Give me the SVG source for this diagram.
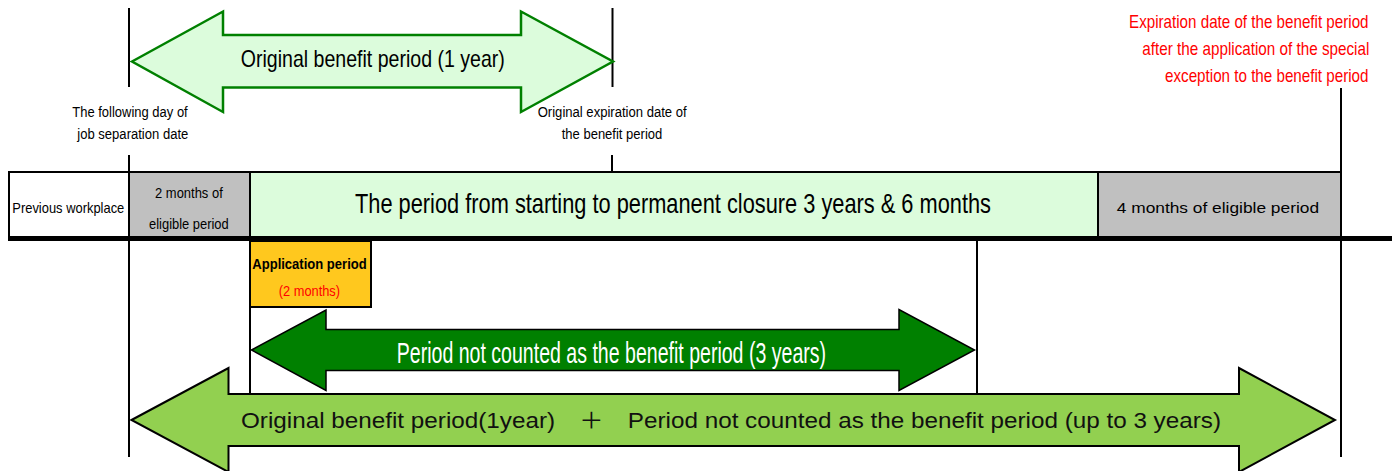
<svg xmlns="http://www.w3.org/2000/svg" width="1392" height="471" viewBox="0 0 1392 471">
<style>
  .t{font-family:"Liberation Sans",Arial,sans-serif;fill:#000}
  .s{font-size:15.5px}
  .c{text-anchor:middle}
  .e{text-anchor:end}
  .red{fill:#ff0000}
  .guide{stroke:#000;stroke-width:2;fill:none}
  .cell{stroke:#000;stroke-width:2}
</style>
<rect width="1392" height="471" fill="#ffffff"/>
<g id="connectors">
  <line class="guide" x1="129" y1="8" x2="129" y2="87"/>
  <line class="guide" x1="129" y1="155" x2="129" y2="457"/>
  <line class="guide" x1="612.5" y1="8" x2="612.5" y2="87"/>
  <line class="guide" x1="612" y1="155" x2="612" y2="172"/>
  <line class="guide" x1="1341" y1="88" x2="1341" y2="457"/>
  <line class="guide" x1="250" y1="306" x2="250" y2="394"/>
  <line class="guide" x1="977" y1="240" x2="977" y2="394"/>
</g>
<g id="top-arrow">
  <path d="M132,61.5 L223,11.5 L223,35 L521,35 L521,11.5 L613,61.5 L521,112 L521,87.5 L223,87.5 L223,112 Z" fill="#dcfcdc" stroke="#008000" stroke-width="2.5" stroke-linejoin="miter"/>
  <text class="t c" transform="translate(372.8,67.3) scale(0.85,1)" x="0" y="0" font-size="23" textLength="310.6" lengthAdjust="spacingAndGlyphs">Original benefit period (1 year)</text>
</g>
<g id="label-start">
  <text class="t s e" x="187.7" y="117.3" textLength="115.4" lengthAdjust="spacingAndGlyphs">The following day of</text>
  <text class="t s e" x="188.3" y="139.3" textLength="111" lengthAdjust="spacingAndGlyphs">job separation date</text>
</g>
<g id="label-original-expiration">
  <text class="t s c" x="612.2" y="117.3" textLength="149" lengthAdjust="spacingAndGlyphs">Original expiration date of</text>
  <text class="t s c" x="612" y="139.3" textLength="100.6" lengthAdjust="spacingAndGlyphs">the benefit period</text>
</g>
<g id="label-special-expiration">
  <text class="t red e" transform="translate(1368.5,28.3) scale(0.845,1)" x="0" y="0" font-size="18" textLength="283.4" lengthAdjust="spacingAndGlyphs">Expiration date of the benefit period</text>
  <text class="t red e" transform="translate(1369.3,55) scale(0.845,1)" x="0" y="0" font-size="18" textLength="268.6" lengthAdjust="spacingAndGlyphs">after the application of the special</text>
  <text class="t red e" transform="translate(1368.5,81.7) scale(0.845,1)" x="0" y="0" font-size="18" textLength="240.8" lengthAdjust="spacingAndGlyphs">exception to the benefit period</text>
</g>
<g id="bar">
  <g id="cell-previous">
    <rect class="cell" x="9" y="172" width="120" height="65" fill="#ffffff"/>
    <text class="t c" x="68.3" y="213.3" font-size="14.5" textLength="112" lengthAdjust="spacingAndGlyphs">Previous workplace</text>
  </g>
  <g id="cell-2months">
    <rect class="cell" x="129" y="172" width="121" height="65" fill="#c0c0c0"/>
    <text class="t c" x="188.9" y="198.3" font-size="15" textLength="67.7" lengthAdjust="spacingAndGlyphs">2 months of</text>
    <text class="t c" x="188.9" y="229.3" font-size="15" textLength="79.7" lengthAdjust="spacingAndGlyphs">eligible period</text>
  </g>
  <g id="cell-closure">
    <rect class="cell" x="250" y="172" width="848" height="65" fill="#dcfcdc"/>
    <text class="t c" transform="translate(673,213.3) scale(0.807,1)" x="0" y="0" font-size="27" textLength="788.1" lengthAdjust="spacingAndGlyphs">The period from starting to permanent closure 3 years &amp; 6 months</text>
  </g>
  <g id="cell-4months">
    <rect class="cell" x="1098" y="172" width="243" height="65" fill="#c0c0c0"/>
    <text class="t c" x="1217.9" y="213" font-size="15.5" textLength="202.3" lengthAdjust="spacingAndGlyphs">4 months of eligible period</text>
  </g>
  <line x1="8" y1="238.5" x2="1392" y2="238.5" stroke="#000" stroke-width="5"/>
</g>
<g id="application-period">
  <rect x="250" y="241" width="121" height="66" fill="#ffc81e" stroke="#000" stroke-width="2"/>
  <text class="t c" x="309.5" y="269.3" font-size="15" font-weight="bold" textLength="114.4" lengthAdjust="spacingAndGlyphs">Application period</text>
  <text class="t red c" x="309.4" y="296" font-size="15" textLength="61.3" lengthAdjust="spacingAndGlyphs">(2 months)</text>
</g>
<g id="not-counted-arrow">
  <path d="M251.5,350 L326,310 L326,329.5 L899,329.5 L899,309.5 L974.5,350 L899,390.5 L899,370.5 L326,370.5 L326,390.5 Z" fill="#008000" stroke="#000" stroke-width="1.5"/>
  <text class="c" transform="translate(611.4,362.7) scale(0.69,1)" x="0" y="0" font-family="'Liberation Sans',Arial,sans-serif" font-size="29" fill="#ffffff" textLength="622.2" lengthAdjust="spacingAndGlyphs">Period not counted as the benefit period (3 years)</text>
</g>
<g id="total-arrow">
  <path d="M131.5,420 L228.5,368 L228.5,394 L1239,394 L1239,368 L1335,420 L1239,472 L1239,446 L228.5,446 L228.5,472 Z" fill="#92d050" stroke="#000" stroke-width="2"/>
  <text class="c" x="731" y="427.7" font-family="'Liberation Sans','Noto Sans CJK JP',sans-serif" font-size="22" fill="#111" textLength="980" lengthAdjust="spacingAndGlyphs">Original benefit period(1year)　＋　Period not counted as the benefit period (up to 3 years)</text>
</g>
</svg>
